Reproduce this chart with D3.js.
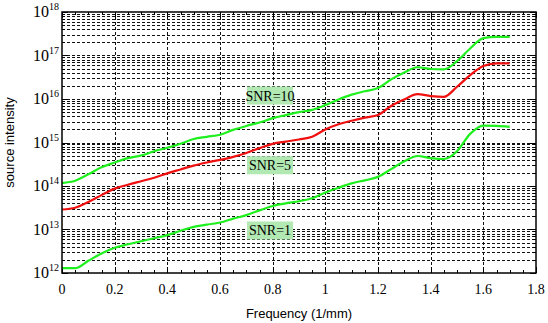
<!DOCTYPE html>
<html>
<head>
<meta charset="utf-8">
<script src="https://cdn.jsdelivr.net/npm/d3@7"></script>
<style>
  html, body { margin: 0; padding: 0; background: #fff; }
  svg { display: block; }
</style>
</head>
<body>
<div id="chart"></div>
<script>
const freq = [0, 0.05, 0.1, 0.15, 0.2, 0.25, 0.3, 0.35, 0.4, 0.45, 0.5, 0.55, 0.6, 0.65,
  0.7, 0.75, 0.8, 0.85, 0.9, 0.95, 1.0, 1.05, 1.1, 1.15, 1.2, 1.25, 1.3, 1.35, 1.4,
  1.45, 1.5, 1.55, 1.6, 1.65, 1.7]

const snr10 = [1.17e14, 1.32e14, 1.86e14, 2.69e14, 3.47e14, 4.37e14, 5.01e14, 6.31e14,
  7.59e14, 9.33e14, 1.20e15, 1.35e15, 1.51e15, 1.95e15, 2.40e15, 2.88e15, 3.63e15,
  4.27e15, 5.01e15, 5.62e15, 7.24e15, 9.77e15, 1.26e16, 1.51e16, 1.78e16, 2.82e16,
  4.07e16, 5.37e16, 4.90e16, 4.79e16, 7.41e16, 1.45e17, 2.51e17, 2.69e17, 2.69e17]

const snr5 = [2.88e13, 3.16e13, 4.27e13, 6.17e13, 8.71e13, 1.07e14, 1.29e14, 1.55e14,
  1.95e14, 2.40e14, 2.95e14, 3.47e14, 3.98e14, 4.68e14, 5.75e14, 7.41e14, 9.33e14,
  1.05e15, 1.17e15, 1.35e15, 2.00e15, 2.63e15, 3.16e15, 3.72e15, 4.27e15, 6.92e15,
  9.77e15, 1.29e16, 1.17e16, 1.12e16, 1.91e16, 3.55e16, 5.75e16, 6.61e16, 6.61e16]

const snr1 = [1.29e12, 1.29e12, 1.91e12, 2.82e12, 3.80e12, 4.57e12, 5.37e12, 6.31e12,
  7.41e12, 9.33e12, 1.15e13, 1.29e13, 1.45e13, 1.78e13, 2.14e13, 2.75e13, 3.47e13,
  3.98e13, 4.47e13, 5.25e13, 7.08e13, 9.12e13, 1.15e14, 1.35e14, 1.62e14, 2.45e14,
  3.72e14, 4.90e14, 4.37e14, 4.17e14, 6.31e14, 1.58e15, 2.45e15, 2.40e15, 2.29e15]

const xTicks = [0, 0.2, 0.4, 0.6, 0.8, 1, 1.2, 1.4, 1.6, 1.8]
const yExponents = [12, 13, 14, 15, 16, 17, 18]

const series = [
  { name: 'SNR=10', values: snr10, color: '#1ef01e' },
  { name: 'SNR=5', values: snr5, color: '#f01010' },
  { name: 'SNR=1', values: snr1, color: '#1ef01e' }
]

// label anchors in data coordinates
const labels = [
  { text: 'SNR=10', f: 0.79, v: 1.2e16 },
  { text: 'SNR=5', f: 0.79, v: 3.0e14 },
  { text: 'SNR=1', f: 0.79, v: 9.5e12 }
]

const width = 548
const height = 323
const margin = { top: 12, right: 12, bottom: 50, left: 62 }

const svg = d3.select('#chart')
  .append('svg')
  .attr('width', width)
  .attr('height', height)

const x = d3.scaleLinear()
  .domain([0, 1.8])
  .range([margin.left, width - margin.right])

const y = d3.scaleLog()
  .domain([1e12, 1e18])
  .range([height - margin.bottom, margin.top])

// grid
const gridVals = []
for (let e = 12; e < 18; e++) {
  for (let k = 1; k < 10; k++) gridVals.push(k * Math.pow(10, e))
}

const grid = svg.append('g')
  .attr('stroke', '#111')
  .attr('stroke-width', 1)
  .attr('stroke-dasharray', '3,2')

grid.selectAll('line.h')
  .data(gridVals.filter(v => v > 1e12))
  .join('line')
  .attr('class', 'h')
  .attr('x1', x(0))
  .attr('x2', x(1.8))
  .attr('y1', d => Math.round(y(d)) + 0.5)
  .attr('y2', d => Math.round(y(d)) + 0.5)

grid.selectAll('line.v')
  .data(xTicks.slice(1, -1))
  .join('line')
  .attr('class', 'v')
  .attr('x1', d => Math.round(x(d)) + 0.5)
  .attr('x2', d => Math.round(x(d)) + 0.5)
  .attr('y1', y(1e18))
  .attr('y2', y(1e12))

// ticks on all four sides, pointing inward
const minorX = d3.range(0, 1.8001, 0.05)
const ticks = svg.append('g').attr('stroke', '#000').attr('stroke-width', 1)

minorX.forEach((v, i) => {
  const len = i % 4 === 0 ? 6 : 3
  const px = Math.round(x(v)) + 0.5
  ticks.append('line').attr('x1', px).attr('x2', px)
    .attr('y1', y(1e12)).attr('y2', y(1e12) - len)
  ticks.append('line').attr('x1', px).attr('x2', px)
    .attr('y1', y(1e18)).attr('y2', y(1e18) + len)
})

gridVals.concat([1e18]).forEach(v => {
  const major = Math.abs(Math.log10(v) - Math.round(Math.log10(v))) < 1e-9
  const len = major ? 6 : 3
  const py = Math.round(y(v)) + 0.5
  ticks.append('line').attr('x1', x(0)).attr('x2', x(0) + len)
    .attr('y1', py).attr('y2', py)
  ticks.append('line').attr('x1', x(1.8)).attr('x2', x(1.8) - len)
    .attr('y1', py).attr('y2', py)
})

// curves
const line = d3.line()
  .x((d, i) => x(freq[i]))
  .y(d => y(d))
  .curve(d3.curveMonotoneX)

svg.append('g')
  .selectAll('path')
  .data(series)
  .join('path')
  .attr('fill', 'none')
  .attr('stroke', d => d.color)
  .attr('stroke-width', 2.2)
  .attr('d', d => line(d.values))

// frame
svg.append('rect')
  .attr('x', x(0))
  .attr('y', y(1e18))
  .attr('width', x(1.8) - x(0))
  .attr('height', y(1e12) - y(1e18))
  .attr('fill', 'none')
  .attr('stroke', '#000')
  .attr('stroke-width', 1.5)

// tick labels
const serif = '"Liberation Serif", "Times New Roman", serif'

svg.append('g')
  .selectAll('text')
  .data(xTicks)
  .join('text')
  .attr('x', d => x(d))
  .attr('y', y(1e12) + 21)
  .attr('text-anchor', 'middle')
  .attr('font-family', serif)
  .attr('font-size', 14)
  .text(d => d3.format('~g')(d))

const yl = svg.append('g')
  .selectAll('text')
  .data(yExponents)
  .join('text')
  .attr('x', x(0) - 3)
  .attr('y', d => y(Math.pow(10, d)) + 5)
  .attr('text-anchor', 'end')
  .attr('font-family', serif)
  .attr('font-size', 16)

yl.append('tspan').text('10')
yl.append('tspan')
  .attr('font-size', 10)
  .attr('dy', -7)
  .text(d => d)

// axis titles
svg.append('text')
  .attr('x', x(0.9))
  .attr('y', height - 5)
  .attr('text-anchor', 'middle')
  .attr('font-family', '"Liberation Sans", Arial, sans-serif')
  .attr('font-size', 13)
  .text('Frequency (1/mm)')

svg.append('text')
  .attr('transform', `translate(14, ${y(1e15)}) rotate(-90)`)
  .attr('text-anchor', 'middle')
  .attr('font-family', '"Liberation Sans", Arial, sans-serif')
  .attr('font-size', 13)
  .text('source intensity')

// annotations
const ann = svg.append('g')
  .selectAll('g')
  .data(labels)
  .join('g')
  .attr('transform', d => `translate(${x(d.f)}, ${y(d.v)})`)

ann.append('rect')
  .attr('x', -23)
  .attr('y', -9)
  .attr('width', 46)
  .attr('height', 18)
  .attr('fill', '#b2e8b2')

ann.append('text')
  .attr('text-anchor', 'middle')
  .attr('y', 5)
  .attr('font-family', serif)
  .attr('font-size', 14)
  .text(d => d.text)
</script>
</body>
</html>
